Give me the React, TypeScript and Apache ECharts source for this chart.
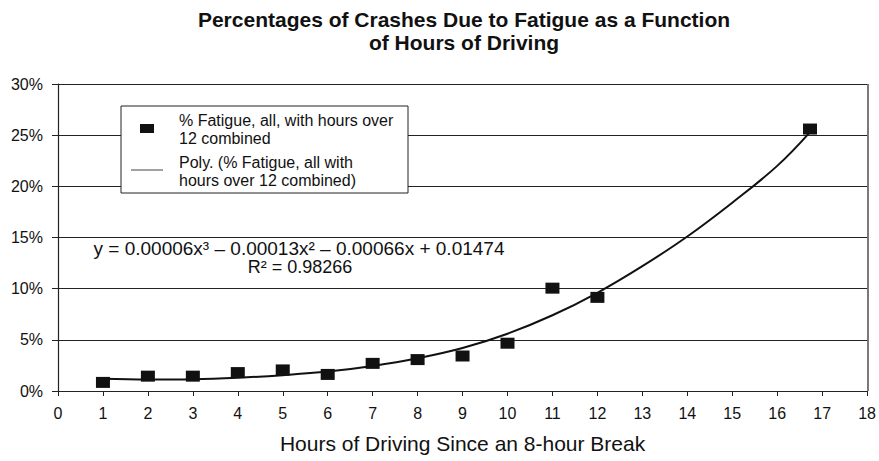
import React, { useEffect, useRef } from "react";
import * as echarts from "echarts";

// Observed data (percent of crashes due to fatigue)
const hours = [1, 2, 3, 4, 5, 6, 7, 8, 9, 10, 11, 12, 16.73];
const fatiguePct = [0.84, 1.45, 1.45, 1.8, 2.06, 1.62, 2.7, 3.07, 3.42, 4.67, 10.05, 9.15, 25.6];

// Polynomial trend line
const trendX = [1, 2, 3, 4, 5, 6, 7, 8, 9, 10, 11, 12, 13, 14, 15, 16, 16.73];
const trendY = [1.2, 1.12, 1.15, 1.3, 1.55, 1.9, 2.45, 3.2, 4.2, 5.6, 7.4, 9.6, 12.2, 15.1, 18.4, 22.0, 25.3];

const titleLines = [
  "Percentages of Crashes Due to Fatigue as a Function",
  "of Hours of Driving",
];
const xAxisName = "Hours of Driving Since an 8-hour Break";
const legendMarkerLines = ["% Fatigue, all, with hours over", "12 combined"];
const legendLineLines = ["Poly. (% Fatigue, all with", "hours over 12 combined)"];
const equationText = "y = 0.00006x³ – 0.00013x² – 0.00066x + 0.01474";
const r2Text = "R² = 0.98266";

const FONT = "'Liberation Sans', Arial, Helvetica, sans-serif";
const INK = "#111";

export default function App() {
  const ref = useRef<HTMLDivElement>(null);

  useEffect(() => {
    if (!ref.current) return;
    const chart = echarts.init(ref.current, undefined, { renderer: "svg" });

    const option: any = {
      animation: false,
      backgroundColor: "#fff",
      textStyle: { fontFamily: FONT, color: INK },
      grid: { left: 58, right: 11, top: 84, bottom: 70, show: false },
      xAxis: {
        type: "value",
        min: 0,
        max: 18,
        interval: 1,
        name: xAxisName,
        nameLocation: "middle",
        nameGap: 42,
        nameTextStyle: { fontFamily: FONT, fontSize: 21, color: INK },
        axisLine: { show: true, onZero: false, lineStyle: { color: "#222", width: 1.2 } },
        axisTick: { show: true, inside: false, length: 5, lineStyle: { color: "#222", width: 1 } },
        axisLabel: { fontFamily: FONT, fontSize: 16, color: INK, margin: 14 },
        splitLine: { show: false },
      },
      yAxis: {
        type: "value",
        min: 0,
        max: 30,
        interval: 5,
        axisLine: { show: true, lineStyle: { color: "#222", width: 1.2 } },
        axisTick: { show: true, length: 6, lineStyle: { color: "#222", width: 1 } },
        axisLabel: {
          fontFamily: FONT,
          fontSize: 16,
          color: INK,
          margin: 15,
          formatter: (v: number) => `${v}%`,
        },
        splitLine: { show: true, lineStyle: { color: "#222", width: 1.2 } },
      },
      series: [
        {
          type: "line",
          name: "Poly. (% Fatigue, all with hours over 12 combined)",
          data: trendX.map((x, i) => [x, trendY[i]]),
          smooth: 0.4,
          showSymbol: false,
          symbol: "none",
          lineStyle: { color: "#111", width: 2 },
          z: 2,
          silent: true,
        },
        {
          type: "scatter",
          name: "% Fatigue, all, with hours over 12 combined",
          data: hours.map((x, i) => [x, fatiguePct[i]]),
          symbol: "rect",
          symbolSize: [14, 11],
          itemStyle: { color: "#111", opacity: 1 },
          z: 3,
        },
      ],
      graphic: [
        // right border of the plot area
        {
          type: "line",
          shape: { x1: 868, y1: 84, x2: 868, y2: 391 },
          style: { stroke: "#222", lineWidth: 1.2 },
          z: 1,
        },
        // title
        {
          type: "text",
          x: 464,
          y: 19,
          style: {
            text: titleLines[0],
            fontFamily: FONT,
            fontSize: 21,
            fontWeight: "bold",
            fill: INK,
            textAlign: "center",
            textVerticalAlign: "middle",
          },
        },
        {
          type: "text",
          x: 464,
          y: 42,
          style: {
            text: titleLines[1],
            fontFamily: FONT,
            fontSize: 21,
            fontWeight: "bold",
            fill: INK,
            textAlign: "center",
            textVerticalAlign: "middle",
          },
        },
        // legend box
        {
          type: "rect",
          shape: { x: 121, y: 106, width: 287, height: 87 },
          style: { fill: "#fff", stroke: "#222", lineWidth: 1 },
          z: 10,
        },
        {
          type: "rect",
          shape: { x: 140, y: 124, width: 14, height: 9 },
          style: { fill: "#111" },
          z: 11,
        },
        {
          type: "line",
          shape: { x1: 131, y1: 170, x2: 163, y2: 170 },
          style: { stroke: "#444", lineWidth: 1 },
          z: 11,
        },
        ...[
          [legendMarkerLines[0], 120],
          [legendMarkerLines[1], 138],
          [legendLineLines[0], 162],
          [legendLineLines[1], 180],
        ].map(([t, y]) => ({
          type: "text",
          x: 179,
          y: y as number,
          z: 11,
          style: {
            text: t as string,
            fontFamily: FONT,
            fontSize: 16,
            fill: INK,
            textAlign: "left",
            textVerticalAlign: "middle",
          },
        })),
        // trend line equation
        {
          type: "text",
          x: 299,
          y: 248,
          z: 11,
          style: {
            text: equationText,
            fontFamily: FONT,
            fontSize: 19,
            fill: INK,
            textAlign: "center",
            textVerticalAlign: "middle",
          },
        },
        {
          type: "text",
          x: 300,
          y: 267,
          z: 11,
          style: {
            text: r2Text,
            fontFamily: FONT,
            fontSize: 18,
            fill: INK,
            textAlign: "center",
            textVerticalAlign: "middle",
          },
        },
      ],
    };

    chart.setOption(option);
    return () => chart.dispose();
  }, []);

  return (
    <div
      ref={ref}
      style={{ position: "fixed", left: 0, top: 0, width: 879, height: 461, background: "#fff" }}
    />
  );
}
